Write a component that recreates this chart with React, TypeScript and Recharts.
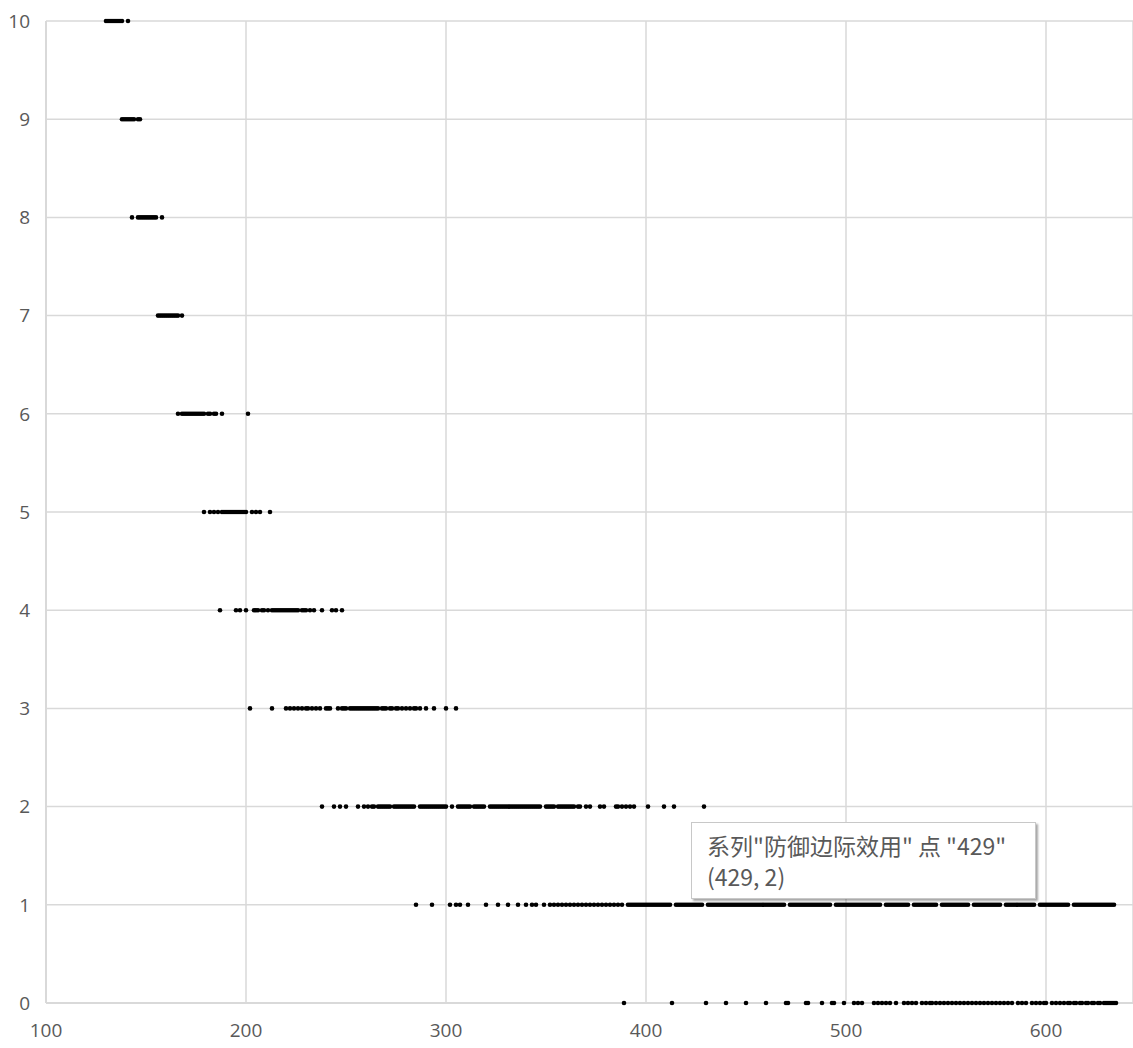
import React from 'react';
import { ScatterChart, Scatter, XAxis, YAxis, CartesianGrid } from 'recharts';

const seriesName = '防御边际效用';
const xTicks = [100, 200, 300, 400, 500, 600];
const yTicks = [0, 1, 2, 3, 4, 5, 6, 7, 8, 9, 10];

const xsAt10 = [130, 131, 132, 133, 134, 135, 136, 137, 138, 141];
const xsAt9 = [138, 139, 140, 141, 142, 143, 144, 146, 147];
const xsAt8 = [143, 146, 147, 148, 149, 150, 151, 152, 153, 154, 155, 158];
const xsAt7 = [156, 157, 158, 159, 160, 161, 162, 163, 164, 165, 166, 168];
const xsAt6 = [166, 168, 169, 170, 171, 172, 173, 174, 175, 176, 177, 178, 179, 181, 182, 184, 185, 188, 201];
const xsAt5 = [179, 182, 184, 186, 188, 189, 190, 191, 192, 193, 194, 195, 196, 197, 198, 199, 200, 203, 205, 207, 212];
const xsAt4 = [187, 195, 197, 200, 204, 205, 206, 208, 209, 211, 213, 214, 215, 216, 217, 218, 219, 220, 221, 222, 223, 224, 225, 226, 228, 229, 230, 232, 234, 238, 243, 245, 248];
const xsAt3 = [202, 213, 220, 222, 224, 226, 228, 230, 231, 233, 235, 237, 240, 241, 242, 246, 248, 249, 250, 252, 253, 254, 255, 256, 257, 258, 259, 260, 261, 262, 263, 264, 265, 266, 268, 269, 270, 272, 273, 275, 276, 278, 280, 282, 284, 285, 287, 290, 294, 300, 305];
const xsAt2 = [238, 244, 247, 250, 256, 259, 261, 263, 264, 266, 267, 268, 269, 270, 271, 272, 274, 275, 276, 277, 278, 279, 280, 281, 282, 283, 284, 287, 288, 289, 290, 291, 292, 293, 294, 295, 296, 297, 298, 299, 300, 303, 306, 307, 308, 309, 310, 311, 312, 314, 315, 316, 317, 318, 319, 322, 323, 324, 325, 326, 327, 328, 329, 330, 331, 332, 333, 334, 335, 336, 337, 338, 339, 340, 341, 342, 343, 344, 345, 346, 347, 350, 351, 352, 353, 354, 356, 357, 358, 359, 360, 361, 362, 363, 364, 366, 367, 370, 372, 377, 379, 385, 386, 388, 390, 392, 394, 401, 409, 414, 429];
const xsAt1 = [285, 293, 302, 305, 307, 311, 320, 326, 331, 336, 340, 343, 345, 349, 352, 354, 356, 358, 360, 362, 364, 366, 368, 370, 372, 374, 376, 378, 380, 382, 384, 386, 388,
  391, 392, 393, 394, 395, 396, 397, 398, 399, 400, 401, 402, 403, 404, 405, 406, 407, 408, 409, 410, 411, 412,
  415, 416, 417, 418, 419, 420, 421, 422, 423, 424, 425, 426, 427, 428,
  431, 432, 433, 434, 435, 436, 437, 438, 439, 440, 441, 442, 443, 444, 445, 446, 447, 448, 449, 450, 451, 452, 453, 454, 455, 456, 457, 458, 459, 460, 461, 462, 463, 464, 465, 466, 467, 468, 469,
  472, 473, 474, 475, 476, 477, 478, 479, 480, 481, 482, 483, 484, 485, 486, 487, 488, 489, 490, 491, 492,
  495, 496, 497, 498, 499, 500, 501, 502, 503, 504, 505, 506, 507, 508, 509, 510, 511, 512, 513, 514, 515, 516, 517,
  520, 521, 522, 523, 524, 525, 526, 527, 528, 529, 530, 531,
  534, 535, 536, 537, 538, 539, 540, 541, 542, 543, 544, 545,
  548, 549, 550, 551, 552, 553, 554, 555, 556, 557, 558, 559, 560, 561,
  564, 565, 566, 567, 568, 569, 570, 571, 572, 573, 574, 575, 576, 577,
  580, 581, 582, 583, 584, 585, 586, 587, 588, 589, 590, 591, 592, 593, 594,
  597, 598, 599, 600, 601, 602, 603, 604, 605, 606, 607, 608, 609, 610, 611,
  614, 615, 616, 617, 618, 619, 620, 621, 622, 623, 624, 625, 626, 627, 628, 629, 630, 631, 632, 633, 634];
const xsAt0 = [389, 413, 430, 440, 450, 460, 470, 471, 480, 481, 488, 493, 494, 499, 504, 506, 508, 514, 516, 518, 520, 522, 525, 529, 531, 533, 535, 538, 540,
  542, 543, 545, 547, 549, 551, 553, 555, 557, 559, 561, 563, 565, 567, 569, 571, 573, 575, 577, 579, 581, 583, 586, 588, 590,
  593, 595, 597, 599, 600, 603, 605, 607, 609, 611, 612, 614, 615, 617, 618, 620, 621, 623, 624, 626, 627, 629, 630, 631, 632, 633, 634, 635];

const levels: [number, number[]][] = [
  [10, xsAt10], [9, xsAt9], [8, xsAt8], [7, xsAt7], [6, xsAt6], [5, xsAt5],
  [4, xsAt4], [3, xsAt3], [2, xsAt2], [1, xsAt1], [0, xsAt0],
];

const data = levels.flatMap(([y, xs]) => xs.map((x) => ({ x, y })));

const Dot = (props: any) => {
  const { cx, cy } = props;
  if (cx == null || cy == null) return null;
  return <circle cx={cx} cy={cy} r={2.3} fill="#000000" />;
};

const tickStyle = { fill: '#595959', fontSize: 19, fontFamily: '"Open Sans", "Noto Sans", sans-serif' };

export default function App() {
  return (
    <div style={{ position: 'absolute', left: 0, top: 0, width: 1133, height: 1048, background: '#ffffff' }}>
      <ScatterChart width={1133} height={1048} margin={{ top: 21, right: 0, bottom: 0, left: 0 }}>
        <CartesianGrid stroke="#d9d9d9" strokeWidth={1.5} />
        <XAxis
          type="number"
          dataKey="x"
          domain={[100, 643.5]}
          ticks={xTicks}
          allowDataOverflow
          height={45}
          axisLine={{ stroke: '#d9d9d9', strokeWidth: 2 }}
          tickLine={false}
          tickSize={0}
          tickMargin={21}
          tick={tickStyle}
          interval={0}
        />
        <YAxis
          type="number"
          dataKey="y"
          domain={[0, 10]}
          ticks={yTicks}
          width={46}
          axisLine={{ stroke: '#d9d9d9', strokeWidth: 2 }}
          tickLine={false}
          tickSize={0}
          tickMargin={16}
          tick={tickStyle}
          interval={0}
        />
        <Scatter name={seriesName} data={data} shape={<Dot />} isAnimationActive={false} />
      </ScatterChart>
      <div
        style={{
          position: 'absolute',
          left: 691,
          top: 822,
          width: 345,
          height: 77,
          boxSizing: 'border-box',
          background: '#ffffff',
          border: '1px solid #c8c8c8',
          boxShadow: '2px 2px 2px rgba(0,0,0,0.35)',
          padding: '6px 0 0 15px',
          color: '#595959',
          fontFamily: '"Noto Sans CJK SC", "Noto Sans", sans-serif',
          fontSize: 23,
          lineHeight: '33px',
          whiteSpace: 'nowrap',
        }}
      >
        <div style={{ height: 31, lineHeight: '33px' }}>系列"{seriesName}" 点 "429"</div>
        <div style={{ lineHeight: '33px' }}>(429, 2)</div>
      </div>
    </div>
  );
}
